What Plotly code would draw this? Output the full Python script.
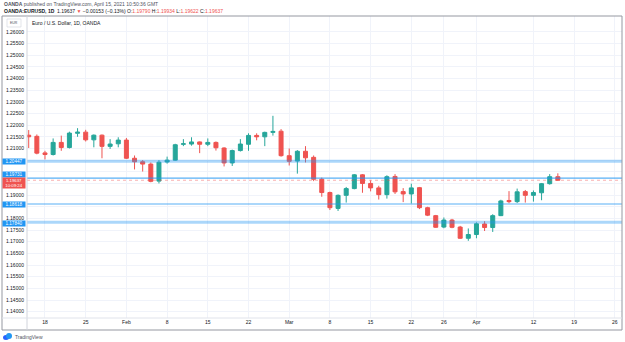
import plotly.graph_objects as go

# ---------------- data ----------------
dates = ["2021-01-14", "2021-01-15",
         "2021-01-18", "2021-01-19", "2021-01-20", "2021-01-21", "2021-01-22",
         "2021-01-25", "2021-01-26", "2021-01-27", "2021-01-28", "2021-01-29",
         "2021-02-01", "2021-02-02", "2021-02-03", "2021-02-04", "2021-02-05",
         "2021-02-08", "2021-02-09", "2021-02-10", "2021-02-11", "2021-02-12",
         "2021-02-15", "2021-02-16", "2021-02-17", "2021-02-18", "2021-02-19",
         "2021-02-22", "2021-02-23", "2021-02-24", "2021-02-25", "2021-02-26",
         "2021-03-01", "2021-03-02", "2021-03-03", "2021-03-04", "2021-03-05",
         "2021-03-08", "2021-03-09", "2021-03-10", "2021-03-11", "2021-03-12",
         "2021-03-15", "2021-03-16", "2021-03-17", "2021-03-18", "2021-03-19",
         "2021-03-22", "2021-03-23", "2021-03-24", "2021-03-25", "2021-03-26",
         "2021-03-29", "2021-03-30", "2021-03-31", "2021-04-01", "2021-04-02",
         "2021-04-05", "2021-04-06", "2021-04-07", "2021-04-08", "2021-04-09",
         "2021-04-12", "2021-04-13", "2021-04-14", "2021-04-15"]
future_dates = ["2021-04-16", "2021-04-19", "2021-04-20", "2021-04-21", "2021-04-22",
                "2021-04-23", "2021-04-26", "2021-04-27", "2021-04-28", "2021-04-29",
                "2021-04-30"]

open_ = [1.2157, 1.2152,
         1.2081, 1.2074, 1.2126, 1.2104, 1.2165,
         1.2170, 1.2137, 1.2157, 1.2109, 1.2120,
         1.2136, 1.2058, 1.2043, 1.2033, 1.1960,
         1.2042, 1.2050, 1.2118, 1.2119, 1.2128,
         1.2118, 1.2126, 1.2102, 1.2038, 1.2091,
         1.2118, 1.2156, 1.2150, 1.2169, 1.2174,
         1.2069, 1.2046, 1.2088, 1.2062, 1.1968,
         1.1911, 1.1843, 1.1899, 1.1928, 1.1987,
         1.1950, 1.1931, 1.1902, 1.1980, 1.1915,
         1.1905, 1.1932, 1.1846, 1.1812, 1.1763,
         1.1793, 1.1763, 1.1715, 1.1731, 1.1776,
         1.1761, 1.1812, 1.1877, 1.1872, 1.1915,
         1.1899, 1.1910, 1.1949, 1.19790]
high = [1.2179, 1.2160,
        1.2090, 1.2143, 1.2155, 1.2172, 1.2187,
        1.2180, 1.2160, 1.2160, 1.2140, 1.2148,
        1.2145, 1.2070, 1.2050, 1.2040, 1.2050,
        1.2065, 1.2120, 1.2140, 1.2148, 1.2130,
        1.2143, 1.2130, 1.2105, 1.2095, 1.2140,
        1.2165, 1.2165, 1.2172, 1.2240, 1.2183,
        1.2100, 1.2093, 1.2110, 1.2070, 1.1975,
        1.1915, 1.1903, 1.1935, 1.1990, 1.1990,
        1.1963, 1.1940, 1.1985, 1.1990, 1.1930,
        1.1949, 1.1935, 1.1850, 1.1815, 1.1804,
        1.1798, 1.1768, 1.1757, 1.1783, 1.1788,
        1.1818, 1.1880, 1.1917, 1.1928, 1.1922,
        1.1920, 1.1952, 1.1990, 1.19934]
low = [1.2102, 1.2075,
       1.2053, 1.2070, 1.2090, 1.2100, 1.2150,
       1.2130, 1.2105, 1.2058, 1.2098, 1.2105,
       1.2055, 1.2010, 1.2001, 1.1955, 1.1950,
       1.2035, 1.2048, 1.2110, 1.2112, 1.2080,
       1.2110, 1.2091, 1.2023, 1.2025, 1.2087,
       1.2090, 1.2135, 1.2110, 1.2155, 1.2065,
       1.2027, 1.1992, 1.2040, 1.1960, 1.1893,
       1.1836, 1.1832, 1.1868, 1.1925, 1.1910,
       1.1916, 1.1881, 1.1885, 1.1905, 1.1870,
       1.1864, 1.1840, 1.1810, 1.1760, 1.1758,
       1.1758, 1.1712, 1.1704, 1.1715, 1.1746,
       1.1742, 1.1810, 1.1865, 1.1866, 1.1868,
       1.1872, 1.1878, 1.1945, 1.19622]
close = [1.2150, 1.2080,
         1.2074, 1.2126, 1.2104, 1.2166, 1.2170,
         1.2137, 1.2157, 1.2109, 1.2119, 1.2136,
         1.2058, 1.2043, 1.2033, 1.1959, 1.2041,
         1.2050, 1.2116, 1.2120, 1.2128, 1.2118,
         1.2126, 1.2103, 1.2038, 1.2091, 1.2119,
         1.2156, 1.2150, 1.2169, 1.2173, 1.2069,
         1.2045, 1.2088, 1.2060, 1.1968, 1.1911,
         1.1846, 1.1899, 1.1928, 1.1987, 1.1950,
         1.1931, 1.1902, 1.1979, 1.1914, 1.1905,
         1.1931, 1.1846, 1.1814, 1.1762, 1.1793,
         1.1762, 1.1715, 1.1731, 1.1777, 1.1761,
         1.1812, 1.1875, 1.1872, 1.1914, 1.1899,
         1.1911, 1.1949, 1.1979, 1.19637]

x_tick_dates = ["2021-01-18", "2021-01-25", "2021-02-01", "2021-02-08", "2021-02-15",
                "2021-02-22", "2021-03-01", "2021-03-08", "2021-03-15", "2021-03-22",
                "2021-03-26", "2021-04-01", "2021-04-12", "2021-04-19", "2021-04-26"]
x_tick_labels = ["18", "25", "Feb", "8", "15", "22", "Mar", "8", "15", "22", "26",
                 "Apr", "12", "19", "26"]

y_tick_vals = [1.140, 1.145, 1.150, 1.155, 1.160, 1.165, 1.170, 1.175, 1.180, 1.185,
               1.190, 1.195, 1.200, 1.205, 1.210, 1.215, 1.220, 1.225, 1.230, 1.235,
               1.240, 1.245, 1.250, 1.255, 1.260]
y_tick_labels = ["1.14000", "1.14500", "1.15000", "1.15500", "1.16000", "1.16500",
                 "1.17000", "1.17500", "1.18000", "", "1.19000", "", "", "",
                 "1.21000", "1.21500", "1.22000", "1.22500", "1.23000", "1.23500",
                 "1.24000", "1.24500", "1.25000", "1.25500", "1.26000"]

level_prices = [1.20447, 1.19731, 1.18618, 1.17840]
level_labels = ["1.20447", "1.19731", "1.18618", "1.17840"]
level_thick = [True, False, False, True]
level_label_shift = [0, 4, 0, -1]

last_price = 1.19637
last_label = "1.19637<br>10:09:24"

# ---------------- layout helpers (pixel -> paper) ----------------
W, H = 625, 342
ML, MR, MT, MB = 27, 3, 16, 24
PW, PH = W - ML - MR, H - MT - MB


def px(xp):
    return (xp - ML) / PW


def py(yp):
    return (H - MB - yp) / PH


GREEN = "#26a69a"
RED = "#ef5350"
BLUE = "#2196f3"
TXT = "#131722"
FONT = "Liberation Sans"

fig = go.Figure()
fig.add_trace(go.Candlestick(
    x=dates, open=open_, high=high, low=low, close=close,
    increasing=dict(line=dict(color=GREEN, width=1), fillcolor=GREEN),
    decreasing=dict(line=dict(color=RED, width=1), fillcolor=RED),
    whiskerwidth=0, showlegend=False, hoverinfo="skip",
))

shapes = []
# level lines
for p, thick in zip(level_prices, level_thick):
    shapes.append(dict(type="line", xref="paper", yref="y", x0=0, x1=1, y0=p, y1=p,
                       line=dict(color="rgba(33,150,243,0.38)" if thick else "rgba(33,150,243,0.75)",
                                 width=3 if thick else 1.2), layer="above"))
# last price dotted line
shapes.append(dict(type="line", xref="paper", yref="y", x0=0, x1=1, y0=last_price, y1=last_price,
                   line=dict(color="rgba(239,83,80,0.45)", width=1, dash="dot"), layer="above"))
# frame
shapes.append(dict(type="rect", xref="paper", yref="paper", x0=px(2), x1=px(622), y0=py(330), y1=py(16),
                   line=dict(color="#9598a1", width=1), layer="above"))
# price axis separator
shapes.append(dict(type="line", xref="paper", yref="paper", x0=0, x1=0, y0=py(330), y1=py(16),
                   line=dict(color="#d1d4dc", width=1), layer="above"))
# time axis separator
shapes.append(dict(type="line", xref="paper", yref="paper", x0=px(2), x1=px(622), y0=0, y1=0,
                   line=dict(color="#e0e3eb", width=1), layer="above"))
# symbol icon box
shapes.append(dict(type="rect", xref="paper", yref="paper", x0=px(7), x1=px(21), y0=py(27), y1=py(19),
                   line=dict(color="#d1d4dc", width=0.6), fillcolor="white", layer="above"))
# TradingView logo (small cloud)
shapes.append(dict(type="circle", xref="paper", yref="paper", x0=px(3), x1=px(9), y0=py(340), y1=py(335),
                   fillcolor="#2962ff", line=dict(width=0), layer="above"))
shapes.append(dict(type="circle", xref="paper", yref="paper", x0=px(6), x1=px(12), y0=py(339), y1=py(333),
                   fillcolor="#2196f3", line=dict(width=0), layer="above"))

annotations = []
for p, lab, sh in zip(level_prices, level_labels, level_label_shift):
    annotations.append(dict(xref="paper", yref="y", x=px(26), y=p, xanchor="right", yanchor="middle",
                            text=lab, showarrow=False, bgcolor=BLUE, width=22, height=5,
                            font=dict(family=FONT, size=4.6, color="white"), borderpad=0, yshift=sh))
annotations.append(dict(xref="paper", yref="y", x=px(26), y=last_price, xanchor="right", yanchor="middle",
                        text=last_label, showarrow=False, bgcolor=RED, width=22, height=10, yshift=-3,
                        font=dict(family=FONT, size=4.3, color="white"), borderpad=0))
# header lines
annotations.append(dict(xref="paper", yref="paper", x=px(2), y=py(4), xanchor="left", yanchor="middle",
                        text="<b>OANDA</b> published on TradingView.com, April 15, 2021 10:50:36 GMT",
                        showarrow=False, font=dict(family=FONT, size=5, color="#50535e")))
annotations.append(dict(xref="paper", yref="paper", x=px(2), y=py(10.5), xanchor="left", yanchor="middle",
                        text=("<b>OANDA:EURUSD, 1D</b>  1.19637 <span style='color:#ef5350'>▼</span> "
                              "−0.00153 (−0.13%) O:<span style='color:#ef5350'>1.19790</span> "
                              "H:<span style='color:#ef5350'>1.19934</span> "
                              "L:<span style='color:#ef5350'>1.19622</span> "
                              "C:<span style='color:#ef5350'>1.19637</span>"),
                        showarrow=False, font=dict(family=FONT, size=5, color=TXT)))
annotations.append(dict(xref="paper", yref="paper", x=px(14), y=py(23), xanchor="center", yanchor="middle",
                        text="EUR", showarrow=False, font=dict(family=FONT, size=3.5, color="#50535e")))
annotations.append(dict(xref="paper", yref="paper", x=px(30), y=py(23), xanchor="left", yanchor="middle",
                        text="Euro / U.S. Dollar, 1D, OANDA", showarrow=False,
                        font=dict(family=FONT, size=5, color=TXT)))
annotations.append(dict(xref="paper", yref="paper", x=px(13), y=py(337), xanchor="left", yanchor="middle",
                        text="TradingView", showarrow=False,
                        font=dict(family=FONT, size=5, color="#50535e")))

fig.update_layout(
    width=W, height=H, margin=dict(l=ML, r=MR, t=MT, b=MB, pad=0),
    paper_bgcolor="white", plot_bgcolor="white",
    shapes=shapes, annotations=annotations,
    xaxis=dict(type="category", categoryorder="array", categoryarray=dates + future_dates,
               range=[-0.21, 72.88], rangeslider=dict(visible=False),
               tickvals=x_tick_dates, ticktext=x_tick_labels, ticks="",
               showgrid=True, gridcolor="#f0f3fa", gridwidth=1, zeroline=False, showline=False,
               tickfont=dict(family=FONT, size=5, color=TXT)),
    yaxis=dict(range=[1.137298, 1.266809], tickvals=y_tick_vals, ticktext=y_tick_labels,
               side="left", ticks="", showgrid=True, gridcolor="#f0f3fa", gridwidth=1,
               zeroline=False, showline=False, ticklabelstandoff=2,
               tickfont=dict(family=FONT, size=5, color=TXT)),
    font=dict(family=FONT, size=5, color=TXT),
)

fig.write_html("out.html")
